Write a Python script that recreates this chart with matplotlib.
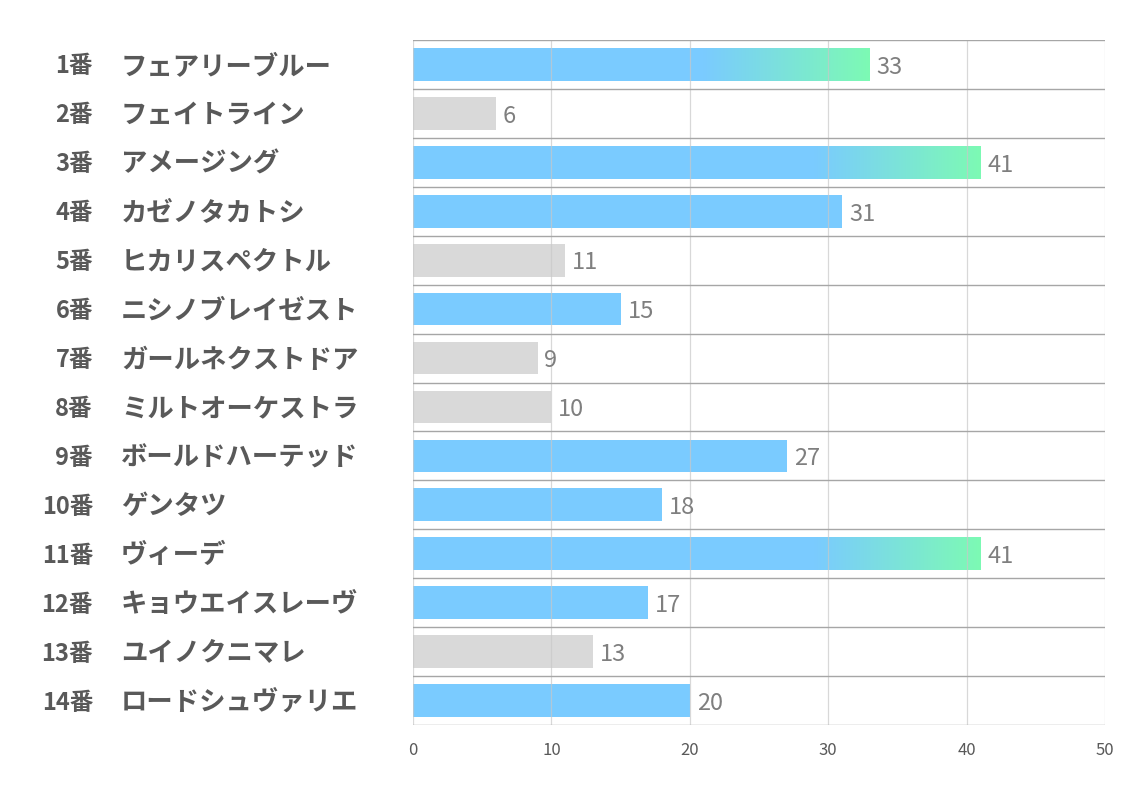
import numpy as np
import matplotlib
matplotlib.use("Agg")
import matplotlib.pyplot as plt
from matplotlib.colors import LinearSegmentedColormap
from matplotlib.transforms import offset_copy

plt.rcParams['font.family'] = ['Noto Sans CJK JP', 'DejaVu Sans']

numbers = ["1番", "2番", "3番", "4番", "5番", "6番", "7番",
           "8番", "9番", "10番", "11番", "12番", "13番", "14番"]
names = ["フェアリーブルー", "フェイトライン", "アメージング", "カゼノタカトシ",
         "ヒカリスペクトル", "ニシノブレイゼスト", "ガールネクストドア",
         "ミルトオーケストラ", "ボールドハーテッド", "ゲンタツ", "ヴィーデ",
         "キョウエイスレーヴ", "ユイノクニマレ", "ロードシュヴァリエ"]
values = [33, 6, 41, 31, 11, 15, 9, 10, 27, 18, 41, 17, 13, 20]
# bar style: "grad" = blue->green, "blue", "gray"
kinds = ["grad", "gray", "grad", "blue", "gray", "blue", "gray",
         "gray", "blue", "blue", "grad", "blue", "gray", "blue"]
xticks = [0, 10, 20, 30, 40, 50]

BLUE = "#7ACBFF"
GREEN = "#7DFAB4"
GRAY = "#D9D9D9"

fig = plt.figure(figsize=(11.34, 7.93), dpi=100)
ax = fig.add_axes([413 / 1134, 1 - 725 / 793, (1105 - 413) / 1134, (725 - 40) / 793])

n = len(values)
ypos = np.arange(n)
h = 0.67
grad_len = 12
cmap = LinearSegmentedColormap.from_list("bg", [BLUE, GREEN])

# text sits a little high with va=center, nudge it down
val_tr = offset_copy(ax.transData, fig=fig, x=0, y=-2, units="points")

for y, v, k in zip(ypos, values, kinds):
    if k == "gray":
        ax.barh(y, v, height=h, color=GRAY, zorder=2)
    elif k == "blue":
        ax.barh(y, v, height=h, color=BLUE, zorder=2)
    else:
        x0 = v - grad_len
        ax.barh(y, x0, height=h, color=BLUE, zorder=2)
        g = np.linspace(0, 1, 256).reshape(1, -1)
        ax.imshow(g, cmap=cmap, aspect="auto", zorder=2,
                  extent=(x0 - 0.05, v, y + h / 2, y - h / 2))
    ax.text(v + 0.5, y, str(v), va="center", ha="left", transform=val_tr,
            fontsize=17, color="#7F7F7F", zorder=3)

# vertical grid, faintly visible over the bars
for x in xticks:
    ax.axvline(x, color="#C8C8C8", lw=0.9, alpha=0.7, zorder=2.5)
# row separators
for b in np.arange(-0.5, n, 1.0):
    ax.axhline(b, color="#A6A6A6", lw=1.0, zorder=2.6)

ax.set_xlim(0, 50)
ax.set_ylim(n - 0.5, -0.5)
ax.set_xticks(xticks)
ax.set_yticks([])
ax.tick_params(axis="x", length=0, pad=12, labelsize=12, labelcolor="#595959")
for s in ax.spines.values():
    s.set_visible(False)

# two-column row labels
for y, num, nm in zip(ypos, numbers, names):
    yf = 1 - (40 + (y + 0.5) * (725 - 40) / n + 2) / 793
    fig.text(93 / 1134, yf, num, ha="right", va="center", fontsize=17,
             fontweight="bold", color="#595959")
    fig.text(121 / 1134, yf, nm, ha="left", va="center", fontsize=19,
             fontweight="bold", color="#595959")

fig.savefig("out.png", dpi=100, facecolor="white")
